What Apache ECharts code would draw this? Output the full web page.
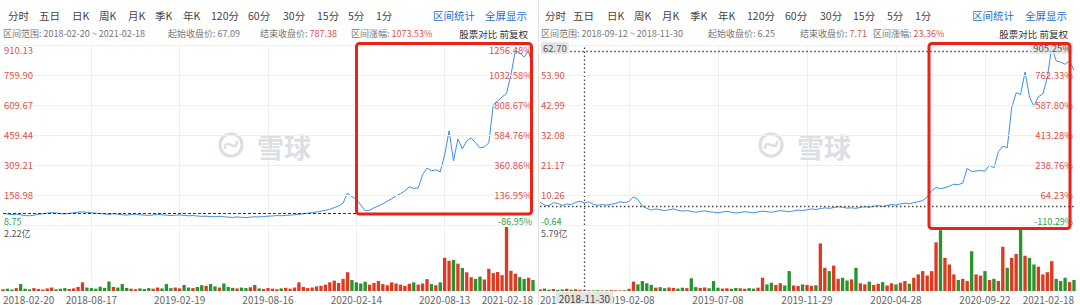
<!DOCTYPE html>
<html><head><meta charset="utf-8">
<script src="https://cdn.jsdelivr.net/npm/echarts@6/dist/echarts.min.js"></script>
<style>html,body{margin:0;padding:0;background:#fff;}#c{width:1080px;height:305px;}</style>
</head><body><div id="c"></div>
<script>
// ---------- DATA ----------
const tabs = ['分时','五日','日K','周K','月K','季K','年K','120分','60分','30分','15分','5分','1分'];
const links = ['区间统计','全屏显示'];
const compareText = '股票对比 前复权';

// Panel 1
const range1 = '2018-02-20 ~ 2021-02-18';
const startClose1 = '67.09', endClose1 = '787.38', change1 = '1073.53%';
const dateTicks1 = ['2018-02-20','2018-08-17','2019-02-19','2019-08-16','2020-02-14','2020-08-13','2021-02-18'];
const priceTicks1 = ['8.75','158.98','309.21','459.44','609.67','759.90','910.13'];
const pctTicks1 = ['-86.95%','136.95%','360.86%','584.76%','808.67%','1032.58%','1256.48%'];
const priceRange1 = [8.75, 910.13];
const startPrice1 = 67.09;
const volMax1 = 2.22, volLabel1 = '2.22亿';
const price1 = [67.1,64,61,63,60,56,55,58,62,65,68,71,69,66,64,67,70,73,75,72,70,
  68,66,64,62,65,63,60,58,61,63,60,58,57,59,62,60,58,56,58,59,
  57,55,56,54,52,53,51,50,52,50,48,47,49,47,46,48,50,49,51,53,
  54,56,55,57,58,60,62,65,68,71,74,78,82,88,96,104,118,168,150,138,
  109,80,82,95,104,115,128,140,155,165,180,200,192,194,260,294,280,285,275,360,
  480,330,440,390,430,445,420,395,400,420,610,630,650,668,760,880,870,850,880,787.38];
const vol1 = [0.06,0.08,0.05,0.10,0.24,0.08,0.06,0.10,0.07,0.05,0.09,0.12,0.06,0.08,0.10,0.07,0.09,0.14,0.30,
  0.12,0.10,0.08,0.15,0.11,0.33,0.14,0.12,0.24,0.10,0.08,0.06,0.09,0.07,0.10,0.08,0.12,0.09,0.24,
  0.10,0.12,0.09,0.21,0.12,0.10,0.14,0.20,0.18,0.24,0.16,0.12,0.26,0.14,0.11,0.09,0.12,0.10,0.13,0.21,
  0.09,0.07,0.10,0.08,0.06,0.09,0.11,0.08,0.12,0.30,0.14,0.10,0.12,0.16,0.18,0.22,0.30,0.36,0.28,0.42,0.65,
  0.38,0.30,0.26,0.32,0.22,0.28,0.35,0.24,0.20,0.30,0.26,0.22,0.18,0.25,0.30,0.22,0.26,0.41,0.24,0.20,0.30,
  1.15,1.05,1.08,0.95,0.80,0.65,0.48,0.42,0.50,0.40,0.77,0.62,0.66,0.55,2.22,0.70,0.60,0.48,0.42,0.46,0.38];

// Panel 2
const range2 = '2018-09-12 ~ 2018-11-30';
const startClose2 = '6.25', endClose2 = '7.71', change2 = '23.36%';
const dateTicks2 = ['2018-09-12','2019-02-08','2019-07-08','2019-11-29','2020-04-28','2020-09-22','2021-02-18'];
const priceTicks2 = ['-0.64','10.26','21.17','32.08','42.99','53.90','62.70'];
const pctTicks2 = ['-110.29%','64.23%','238.76%','413.28%','587.80%','762.33%','905.25%'];
const priceRange2 = [-0.64, 64.81];
const startPrice2 = 6.25;
const crossPrice2 = 62.70, crossIdx2 = 10, crossDate2 = '2018-11-30';
const volMax2 = 5.79, volLabel2 = '5.79亿';
const price2 = [7.6,6.6,6.4,7.5,7.2,6.5,7.0,6.8,7.6,8.0,7.4,7.8,6.9,6.5,6.8,6.6,6.9,7.2,7.8,7.5,7.9,
  9.6,8.6,6.2,5.4,4.8,5.2,4.9,4.6,4.9,5.2,4.7,4.4,4.6,4.3,4.0,4.3,4.5,4.2,4.0,3.8,
  4.1,4.3,4.0,3.7,3.9,4.2,4.0,3.8,4.1,4.4,4.2,4.0,4.3,4.6,4.4,4.2,4.5,4.8,4.6,4.9,
  5.2,5.0,5.3,5.6,5.4,5.7,6.0,5.8,5.5,5.6,5.4,5.8,6.0,5.8,6.2,6.4,6.1,6.5,6.8,6.6,
  7.0,7.3,7.1,7.5,7.8,8.3,9.5,11.8,13.0,12.6,12.9,13.5,14.2,14.0,14.6,20.0,18.8,19.0,19.2,18.9,
  21.2,20.1,26.0,28.0,27.5,42.0,47.4,46.8,55.0,45.9,42.5,46.0,47.0,53.0,64.0,59.0,58.6,57.8,59.0,55.7];
const vol2 = [0.15,0.22,0.12,0.18,0.10,0.14,0.20,0.12,0.16,0.10,0.08,
  0.06,0.05,0.07,0.05,0.06,0.08,0.06,0.05,0.07,0.20,
  0.85,0.60,0.90,0.70,0.55,0.30,0.35,0.25,0.32,0.28,0.22,0.30,0.26,1.15,0.35,0.28,0.32,0.25,0.90,
  0.30,0.22,0.25,0.20,0.28,0.24,0.20,0.26,0.22,0.30,1.20,0.60,0.75,0.55,0.70,0.50,1.80,
  0.50,0.45,0.60,0.55,0.48,0.52,4.30,2.10,1.80,2.30,1.10,1.20,0.95,1.05,2.10,
  0.70,0.60,0.85,0.55,0.65,0.80,0.50,0.70,0.60,0.75,0.90,0.65,1.20,1.50,1.80,1.40,1.80,4.40,5.50,3.00,2.40,1.50,
  1.00,1.10,0.90,3.60,1.50,1.40,1.80,1.00,1.10,0.90,4.00,2.10,3.00,3.35,5.79,3.20,3.00,2.40,2.20,1.50,1.70,2.70,
  1.10,0.90,1.20,0.80,1.00];

// ---------- STYLE ----------
const FONT = '"Noto Sans CJK SC","Noto Sans",sans-serif';
const LINE = '#3d8ee6', UP = '#dd3a1f', DOWN = '#2a9330';
const LRED = '#d9534f', LGREEN = '#2f9e44', GRIDC = '#efefef';

const chart = echarts.init(document.getElementById('c'), null, {renderer: 'svg'});

const richBase = {
  r: {color: LRED, fontSize: 9.5, lineHeight: 12, fontFamily: FONT},
  g: {color: LGREEN, fontSize: 9, lineHeight: 10, fontFamily: FONT},
  sp: {fontSize: 6, lineHeight: 10},
  sp2: {fontSize: 4, lineHeight: 6},
  sb: {fontSize: 4, lineHeight: 8},
  c: {color: '#555', backgroundColor: '#e4e4e4', padding: [1, 2], fontSize: 9.5, lineHeight: 12, fontFamily: FONT}
};

function labelAxis(gridIndex, side, labels, cross) {
  const top = labels.length - 1;
  return {
    type: 'value', gridIndex, position: side, min: 0, max: top, interval: 1, z: 6,
    axisLine: {show: false}, axisTick: {show: false},
    splitLine: {show: side === 'left', lineStyle: {color: GRIDC, width: 1}},
    axisLabel: {
      inside: true, margin: 1, rich: richBase,
      formatter: function (v) {
        const i = Math.round(v), t = labels[i];
        if (i === 0) return '{g|' + t + '}\n{sb| }';
        if (i === top) return cross ? '{sp2| }\n{c|' + t + '}' : '{sp| }\n{r|' + t + '}';
        return '{r|' + t + '}';
      }
    }
  };
}

function priceAxis(gridIndex, rng) {
  return {type: 'value', gridIndex, min: rng[0], max: rng[1], show: false, splitLine: {show: false}};
}

function volAxis(gridIndex, max, label) {
  return {
    type: 'value', gridIndex, min: 0, max: max, interval: max,
    axisLine: {show: false}, axisTick: {show: false}, splitLine: {show: false},
    axisLabel: {inside: true, margin: 1, verticalAlign: 'top', color: '#555', fontSize: 9, lineHeight: 12, fontFamily: FONT,
      formatter: v => (v > 0 ? label : '')}
  };
}

function xAxis(gridIndex, n, ticks, showLabels) {
  const step = (n - 1) / (ticks.length - 1);
  const cats = Array.from({length: n}, (_, i) => i);
  return {
    type: 'category', gridIndex, data: cats, boundaryGap: false,
    axisLine: {show: false}, axisTick: {show: false},
    splitLine: {show: true, interval: (i) => i % step === 0 && i > 0 && i < n - 1, lineStyle: {color: GRIDC}},
    axisLabel: showLabels ? {
      show: true, interval: (i) => i % step === 0, margin: 3, color: '#666', fontSize: 10, fontFamily: FONT,
      alignMinLabel: 'left', alignMaxLabel: 'right',
      formatter: (v, i) => ticks[Math.round(i / step)]
    } : {show: false}
  };
}

function volItems(vol, price) {
  return vol.map((v, i) => ({
    value: v,
    itemStyle: {color: (i === 0 || price[i] >= price[i - 1]) ? UP : DOWN}
  }));
}

// header graphics
const tabX1 = [8,39,72,99,128,155,183,211,248,283,317,348,376];
const tabX2 = [545,573,607,634,662,690,718,747,785,820,853,887,915];
const graphics = [];
function txt(x, y, text, fill, size, align, rich) {
  const st = {text, fill, fontSize: size, fontFamily: FONT, textAlign: align || 'left', textVerticalAlign: 'middle',
    align: align || 'left', verticalAlign: 'middle'};
  if (rich) st.rich = rich;
  graphics.push({type: 'text', x, y, z: 50, style: st});
}
const hdrRich = {
  l: {fill: '#777', color: '#777', fontSize: 9, fontFamily: FONT},
  g: {fill: '#777', color: '#777', fontSize: 9, fontFamily: FONT},
  v: {fill: LRED, color: LRED, fontSize: 9, fontFamily: FONT}
};
function header(off, tabX, linkX, rng, sc, ec, ch, rightX) {
  tabs.forEach((t, i) => txt(tabX[i], 15, t, '#444', 10.5));
  txt(linkX[0], 15, links[0], '#1d6fce', 10.5);
  txt(linkX[1], 15, links[1], '#1d6fce', 10.5);
  txt(off.range, 33, '{l|区间范围: ' + rng + '}', '#777', 9, 'left', hdrRich);
  txt(off.start, 33, '{l|起始收盘价: }{g|' + sc + '}', '#777', 9, 'left', hdrRich);
  txt(off.end, 33, '{l|结束收盘价: }{v|' + ec + '}', '#777', 9, 'left', hdrRich);
  txt(off.chg, 33, '{l|区间涨幅: }{v|' + ch + '}', '#777', 9, 'left', hdrRich);
  txt(rightX, 34, compareText, '#333', 9.5, 'right');
}
header({range: 3, start: 168, end: 260, chg: 351}, tabX1, [433, 485], range1, startClose1, endClose1, change1, 528);
header({range: 541, start: 708, end: 800, chg: 873}, tabX2, [972, 1025], range2, startClose2, endClose2, change2, 1068);

// watermark
function watermark(cx, cy) {
  graphics.push({type: 'circle', z: 1, shape: {cx: cx, cy: cy, r: 11}, style: {fill: 'none', stroke: '#dcdfe4', lineWidth: 3.2}});
  graphics.push({type: 'bezierCurve', z: 1, shape: {x1: cx - 6, y1: cy + 4, cpx1: cx - 6, cpy1: cy - 9, cpx2: cx + 6, cpy2: cy + 9, x2: cx + 6, y2: cy - 4},
    style: {fill: 'none', stroke: '#dcdfe4', lineWidth: 2.6}});
  graphics.push({type: 'text', z: 1, x: cx + 26, y: cy + 1, style: {text: '雪球', fill: '#dcdfe4', fontSize: 27, fontFamily: FONT, fontWeight: 'bold', textVerticalAlign: 'middle', verticalAlign: 'middle'}});
}
watermark(231, 145);
watermark(771, 145);

// separator and highlight boxes
graphics.push({type: 'line', z: 40, shape: {x1: 538.5, y1: 0, x2: 538.5, y2: 305}, style: {stroke: '#e2e2e2', lineWidth: 1}});
graphics.push({type: 'rect', z: 100, shape: {x: 356.5, y: 43.5, width: 175, height: 170.5, r: 3}, style: {fill: 'none', stroke: '#e8231a', lineWidth: 3}});
graphics.push({type: 'rect', z: 100, shape: {x: 929, y: 43.5, width: 141, height: 185, r: 3}, style: {fill: 'none', stroke: '#e8231a', lineWidth: 3}});

const n1 = price1.length, n2 = price2.length;

chart.setOption({
  animation: false,
  backgroundColor: '#fff',
  textStyle: {fontFamily: FONT},
  grid: [
    {left: 3, top: 45, width: 530, height: 180},
    {left: 3, top: 227, width: 530, height: 64},
    {left: 540, top: 45, width: 534, height: 180},
    {left: 540, top: 227, width: 534, height: 64}
  ],
  xAxis: [
    xAxis(0, n1, dateTicks1, false),
    xAxis(1, n1, dateTicks1, true),
    xAxis(2, n2, dateTicks2, false),
    xAxis(3, n2, dateTicks2, true)
  ],
  yAxis: [
    priceAxis(0, priceRange1),
    labelAxis(0, 'left', priceTicks1, false),
    labelAxis(0, 'right', pctTicks1, false),
    volAxis(1, volMax1, volLabel1),
    priceAxis(2, priceRange2),
    labelAxis(2, 'left', priceTicks2, true),
    labelAxis(2, 'right', pctTicks2, true),
    volAxis(3, volMax2, volLabel2)
  ],
  series: [
    {type: 'line', xAxisIndex: 0, yAxisIndex: 0, data: price1, symbol: 'none', z: 3,
      lineStyle: {color: LINE, width: 1},
      markLine: {silent: true, symbol: ['none', 'none'], label: {show: false},
        lineStyle: {color: '#334', type: [3, 2], width: 1}, data: [{yAxis: startPrice1}]}},
    {type: 'bar', xAxisIndex: 1, yAxisIndex: 3, data: volItems(vol1, price1), barCategoryGap: '25%'},
    {type: 'line', xAxisIndex: 2, yAxisIndex: 4, data: price2, symbol: 'none', z: 3,
      lineStyle: {color: LINE, width: 1},
      markLine: {silent: true, symbol: ['none', 'none'], label: {show: false},
        lineStyle: {color: '#444', type: [1.5, 2.5], width: 1.3},
        data: [
          {yAxis: startPrice2},
          [{xAxis: 5, yAxis: crossPrice2}, {xAxis: n2 - 1, yAxis: crossPrice2}],
          {xAxis: crossIdx2}
        ]}},
    {type: 'bar', xAxisIndex: 3, yAxisIndex: 7, data: volItems(vol2, price2), barCategoryGap: '25%',
      markLine: {silent: true, symbol: ['none', 'none'],
        lineStyle: {color: '#444', type: [1.5, 2.5], width: 1.3},
        label: {show: true, position: 'start', distance: 1, formatter: crossDate2, color: '#444',
          backgroundColor: '#e4e4e4', padding: [1, 3], fontSize: 10, fontFamily: FONT},
        data: [{xAxis: crossIdx2}]}}
  ],
  graphic: graphics
});
</script>
</body></html>
